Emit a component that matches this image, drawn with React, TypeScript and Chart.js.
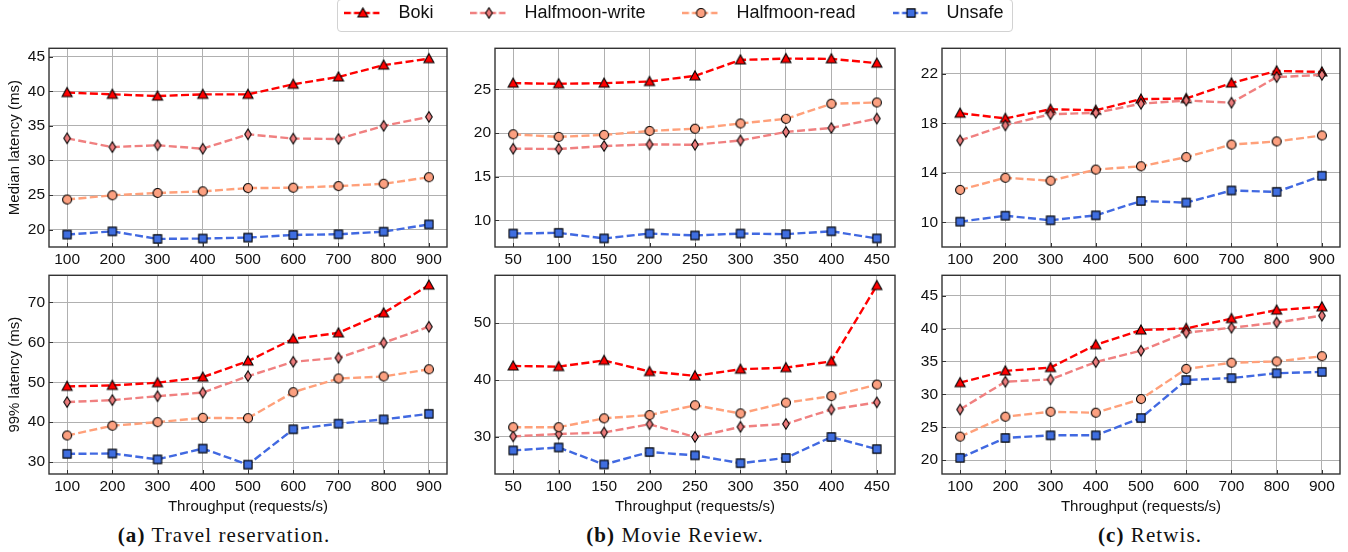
import React, { useEffect, useRef } from 'react';
import { Chart, registerables } from 'chart.js';

Chart.register(...registerables);

// ---------------- data ----------------
const SERIES_NAMES = ['Boki', 'Halfmoon-write', 'Halfmoon-read', 'Unsafe'];

const travelX = [100, 200, 300, 400, 500, 600, 700, 800, 900];
const movieX = [50, 100, 150, 200, 250, 300, 350, 400, 450];
const retwisX = [100, 200, 300, 400, 500, 600, 700, 800, 900];

// (a) Travel reservation - median
const travelMedBoki = [39.8, 39.55, 39.3, 39.55, 39.55, 41.0, 42.06, 43.77, 44.7];
const travelMedWrite = [33.2, 31.93, 32.2, 31.7, 33.78, 33.16, 33.1, 35.0, 36.3];
const travelMedRead = [24.36, 24.97, 25.3, 25.54, 26.01, 26.06, 26.3, 26.63, 27.58];
const travelMedUnsafe = [19.29, 19.76, 18.67, 18.72, 18.86, 19.24, 19.34, 19.72, 20.76];
// (a) Travel reservation - 99%
const travelP99Boki = [48.97, 49.2, 49.88, 51.27, 55.3, 60.88, 62.36, 67.37, 74.35];
const travelP99Write = [45.03, 45.52, 46.5, 47.41, 51.52, 55.13, 56.12, 59.9, 63.92];
const travelP99Read = [36.65, 39.1, 40.0, 41.07, 40.99, 47.5, 50.94, 51.44, 53.24];
const travelP99Unsafe = [32.05, 32.14, 30.66, 33.37, 29.34, 38.21, 39.61, 40.68, 42.07];

// (b) Movie Review - median
const movieMedBoki = [25.71, 25.64, 25.71, 25.9, 26.54, 28.37, 28.52, 28.49, 28.0];
const movieMedWrite = [18.21, 18.18, 18.52, 18.7, 18.66, 19.15, 20.13, 20.58, 21.66];
const movieMedRead = [19.86, 19.56, 19.79, 20.24, 20.5, 21.1, 21.63, 23.35, 23.5];
const movieMedUnsafe = [8.5, 8.58, 7.94, 8.5, 8.28, 8.5, 8.43, 8.76, 7.94];
// (b) Movie Review - 99%
const movieP99Boki = [42.47, 42.36, 43.45, 41.49, 40.75, 41.9, 42.18, 43.28, 56.6];
const movieP99Write = [30.11, 30.52, 30.8, 32.24, 30.0, 31.78, 32.3, 34.83, 36.09];
const movieP99Read = [31.72, 31.72, 33.28, 33.85, 35.57, 34.14, 36.03, 37.18, 39.2];
const movieP99Unsafe = [27.64, 28.16, 25.17, 27.36, 26.78, 25.4, 26.32, 30.0, 27.87];

// (c) Retwis - median
const retwisMedBoki = [18.82, 18.4, 19.14, 19.06, 19.96, 20.01, 21.26, 22.24, 22.16];
const retwisMedWrite = [16.62, 17.84, 18.74, 18.85, 19.59, 19.85, 19.67, 21.74, 21.92];
const retwisMedRead = [12.62, 13.6, 13.36, 14.26, 14.53, 15.27, 16.28, 16.54, 17.02];
const retwisMedUnsafe = [10.05, 10.53, 10.16, 10.56, 11.72, 11.59, 12.57, 12.46, 13.76];
// (c) Retwis - 99%
const retwisP99Boki = [31.78, 33.57, 34.07, 37.54, 39.78, 40.03, 41.52, 42.81, 43.31];
const retwisP99Write = [27.7, 31.93, 32.28, 34.91, 36.65, 39.38, 40.13, 40.92, 41.97];
const retwisP99Read = [23.58, 26.61, 27.36, 27.21, 29.29, 33.87, 34.81, 35.01, 35.8];
const retwisP99Unsafe = [20.35, 23.38, 23.78, 23.78, 26.41, 32.18, 32.48, 33.22, 33.42];

// tick labels
const travelXTicks = [100, 200, 300, 400, 500, 600, 700, 800, 900];
const movieXTicks = [50, 100, 150, 200, 250, 300, 350, 400, 450];
const retwisXTicks = [100, 200, 300, 400, 500, 600, 700, 800, 900];
const travelMedYTicks = [20, 25, 30, 35, 40, 45];
const travelP99YTicks = [30, 40, 50, 60, 70];
const movieMedYTicks = [10, 15, 20, 25];
const movieP99YTicks = [30, 40, 50];
const retwisMedYTicks = [10, 14, 18, 22];
const retwisP99YTicks = [20, 25, 30, 35, 40, 45];

const X_TITLE = 'Throughput (requests/s)';
const Y_TITLE_MED = 'Median latency (ms)';
const Y_TITLE_P99 = '99% latency (ms)';

// ---------------- styles ----------------
const LINE_COLORS = ['#ff0000', '#f08080', '#ffa07a', '#4169e1'];
const MARKER_FILLS = ['#ff0000', '#ec7c7c', '#fca080', '#3f6ee0'];
const MARKER_KINDS = ['triangle', 'thinDiamond', 'circle', 'square'];
const FONT = '"Liberation Sans", Arial, Helvetica, sans-serif';
const DASH = [8, 3.4];

function drawMarker(ctx: CanvasRenderingContext2D, kind: string, cx: number, cy: number, fill: string) {
  ctx.beginPath();
  if (kind === 'triangle') {
    ctx.moveTo(cx, cy - 5.0);
    ctx.lineTo(cx + 5.0, cy + 4.0);
    ctx.lineTo(cx - 5.0, cy + 4.0);
    ctx.closePath();
  } else if (kind === 'thinDiamond') {
    ctx.moveTo(cx, cy - 5.3);
    ctx.lineTo(cx + 3.3, cy);
    ctx.lineTo(cx, cy + 5.3);
    ctx.lineTo(cx - 3.3, cy);
    ctx.closePath();
  } else if (kind === 'circle') {
    ctx.arc(cx, cy, 4.5, 0, Math.PI * 2);
  } else {
    ctx.rect(cx - 4.1, cy - 4.1, 8.2, 8.2);
  }
  ctx.fillStyle = fill;
  ctx.fill();
  ctx.lineWidth = 1.1;
  ctx.strokeStyle = '#000';
  ctx.stroke();
}

function makeMarker(i: number): HTMLCanvasElement {
  const c = document.createElement('canvas');
  c.width = 14;
  c.height = 14;
  const ctx = c.getContext('2d')!;
  drawMarker(ctx, MARKER_KINDS[i], 7, 7, MARKER_FILLS[i]);
  return c;
}

function makeLegendHandle(i: number): HTMLCanvasElement {
  const c = document.createElement('canvas');
  c.width = 45;
  c.height = 14;
  const ctx = c.getContext('2d')!;
  ctx.strokeStyle = LINE_COLORS[i];
  ctx.lineWidth = 2.4;
  ctx.setLineDash([6.5, 3]);
  ctx.beginPath();
  ctx.moveTo(0, 7);
  ctx.lineTo(37, 7);
  ctx.stroke();
  ctx.setLineDash([]);
  drawMarker(ctx, MARKER_KINDS[i], 18.5, 7, MARKER_FILLS[i]);
  return c;
}

const framePlugin = {
  id: 'frame',
  afterDraw(chart: any) {
    const { ctx, chartArea } = chart;
    const { left, right, top, bottom } = chartArea;
    ctx.save();
    ctx.strokeStyle = '#333';
    ctx.lineWidth = 1;
    const xs = chart.scales.x;
    const ys = chart.scales.y;
    ctx.beginPath();
    xs.ticks.forEach((t: any) => {
      const px = Math.round(xs.getPixelForValue(t.value)) + 0.5;
      ctx.moveTo(px, bottom);
      ctx.lineTo(px, bottom - 4);
    });
    ys.ticks.forEach((t: any) => {
      const py = Math.round(ys.getPixelForValue(t.value)) + 0.5;
      ctx.moveTo(left, py);
      ctx.lineTo(left + 4, py);
    });
    ctx.stroke();
    ctx.lineWidth = 1.4;
    ctx.strokeRect(left, top, right - left, bottom - top);
    ctx.restore();
  },
};

type PanelCfg = {
  left: number;
  top: number;
  width: number;
  height: number;
  yAxisW: number;
  xAxisH: number;
  padRight: number;
  xs: number[];
  series: number[][];
  xMin: number;
  xMax: number;
  yMin: number;
  yMax: number;
  xTicks: number[];
  yTicks: number[];
  yTitle?: string;
  xTitle?: string;
};

const TOP_Y = 35;
const TOP_H = 235;
const BOT_Y = 262;
const BOT_H = 254;

const PANELS: PanelCfg[] = [
  {
    left: 0, top: TOP_Y, width: 460, height: TOP_H, yAxisW: 49, xAxisH: 23, padRight: 13,
    xs: travelX, series: [travelMedBoki, travelMedWrite, travelMedRead, travelMedUnsafe],
    xMin: 60, xMax: 940, yMin: 17.5, yMax: 46.2, xTicks: travelXTicks, yTicks: travelMedYTicks,
    yTitle: Y_TITLE_MED,
  },
  {
    left: 460, top: TOP_Y, width: 450, height: TOP_H, yAxisW: 35, xAxisH: 23, padRight: 15,
    xs: movieX, series: [movieMedBoki, movieMedWrite, movieMedRead, movieMedUnsafe],
    xMin: 30, xMax: 470, yMin: 6.96, yMax: 29.7, xTicks: movieXTicks, yTicks: movieMedYTicks,
  },
  {
    left: 900, top: TOP_Y, width: 448, height: TOP_H, yAxisW: 42, xAxisH: 23, padRight: 8,
    xs: retwisX, series: [retwisMedBoki, retwisMedWrite, retwisMedRead, retwisMedUnsafe],
    xMin: 60, xMax: 940, yMin: 8.0, yMax: 24.07, xTicks: retwisXTicks, yTicks: retwisMedYTicks,
  },
  {
    left: 0, top: BOT_Y, width: 460, height: BOT_H, yAxisW: 49, xAxisH: 42, padRight: 13,
    xs: travelX, series: [travelP99Boki, travelP99Write, travelP99Read, travelP99Unsafe],
    xMin: 60, xMax: 940, yMin: 27.0, yMax: 76.8, xTicks: travelXTicks, yTicks: travelP99YTicks,
    yTitle: Y_TITLE_P99, xTitle: X_TITLE,
  },
  {
    left: 460, top: BOT_Y, width: 450, height: BOT_H, yAxisW: 35, xAxisH: 42, padRight: 15,
    xs: movieX, series: [movieP99Boki, movieP99Write, movieP99Read, movieP99Unsafe],
    xMin: 30, xMax: 470, yMin: 23.5, yMax: 58.4, xTicks: movieXTicks, yTicks: movieP99YTicks,
    xTitle: X_TITLE,
  },
  {
    left: 900, top: BOT_Y, width: 448, height: BOT_H, yAxisW: 42, xAxisH: 42, padRight: 8,
    xs: retwisX, series: [retwisP99Boki, retwisP99Write, retwisP99Read, retwisP99Unsafe],
    xMin: 60, xMax: 940, yMin: 17.9, yMax: 48.1, xTicks: retwisXTicks, yTicks: retwisP99YTicks,
    xTitle: X_TITLE,
  },
];

const CAPTIONS = [
  { label: '(a)', text: ' Travel reservation.', cx: 224 },
  { label: '(b)', text: ' Movie Review.', cx: 675 },
  { label: '(c)', text: ' Retwis.', cx: 1150 },
];

function Panel({ cfg }: { cfg: PanelCfg }) {
  const ref = useRef<HTMLCanvasElement>(null);
  useEffect(() => {
    const markers = [0, 1, 2, 3].map(makeMarker);
    const datasets = cfg.series.map((vals, i) => ({
      label: SERIES_NAMES[i],
      data: vals.map((v, j) => ({ x: cfg.xs[j], y: v })),
      borderColor: LINE_COLORS[i],
      backgroundColor: MARKER_FILLS[i],
      borderWidth: 2.4,
      borderDash: DASH,
      pointStyle: markers[i],
      pointRadius: 5,
      pointHoverRadius: 5,
      order: 3 - i,
      tension: 0,
      clip: false as any,
    }));
    const tickFont = { family: FONT, size: 15.5 };
    const chart = new Chart(ref.current!, {
      type: 'line',
      data: { datasets },
      plugins: [framePlugin],
      options: {
        animation: false,
        responsive: false,
        maintainAspectRatio: false,
        events: [],
        layout: { padding: { top: 10, right: cfg.padRight, left: 0, bottom: 0 } },
        plugins: { legend: { display: false }, tooltip: { enabled: false } },
        scales: {
          x: {
            type: 'linear',
            min: cfg.xMin,
            max: cfg.xMax,
            afterBuildTicks: (axis: any) => {
              axis.ticks = cfg.xTicks.map((v) => ({ value: v }));
            },
            afterFit: (axis: any) => {
              axis.height = cfg.xAxisH;
            },
            grid: { color: '#b0b0b0', lineWidth: 1, drawTicks: false },
            border: { display: false },
            ticks: { font: tickFont, color: '#111', padding: 3, maxRotation: 0, autoSkip: false },
            title: cfg.xTitle
              ? { display: true, text: cfg.xTitle, font: { family: FONT, size: 15 }, color: '#111', padding: { top: 0, bottom: 0 } }
              : { display: false },
          },
          y: {
            type: 'linear',
            min: cfg.yMin,
            max: cfg.yMax,
            afterBuildTicks: (axis: any) => {
              axis.ticks = cfg.yTicks.map((v) => ({ value: v }));
            },
            afterFit: (axis: any) => {
              axis.width = cfg.yAxisW;
            },
            grid: { color: '#b0b0b0', lineWidth: 1, drawTicks: false },
            border: { display: false },
            ticks: { font: tickFont, color: '#111', padding: 4, autoSkip: false },
            title: cfg.yTitle
              ? { display: true, text: cfg.yTitle, font: { family: FONT, size: 15 }, color: '#111', padding: { top: 6, bottom: 0 } }
              : { display: false },
          },
        },
      } as any,
    });
    return () => chart.destroy();
  }, [cfg]);
  return (
    <canvas
      ref={ref}
      width={cfg.width}
      height={cfg.height}
      style={{ position: 'absolute', left: cfg.left, top: cfg.top, width: cfg.width, height: cfg.height }}
    />
  );
}

function LegendChart() {
  const ref = useRef<HTMLCanvasElement>(null);
  useEffect(() => {
    const handles = [0, 1, 2, 3].map(makeLegendHandle);
    const chart = new Chart(ref.current!, {
      type: 'line',
      data: {
        datasets: SERIES_NAMES.map((name, i) => ({
          label: name,
          data: [],
          borderColor: LINE_COLORS[i],
          backgroundColor: MARKER_FILLS[i],
        })),
      },
      options: {
        animation: false,
        responsive: false,
        maintainAspectRatio: false,
        events: [],
        layout: { padding: 0 },
        scales: { x: { display: false }, y: { display: false } },
        plugins: {
          tooltip: { enabled: false },
          legend: {
            display: true,
            position: 'top',
            align: 'center',
            labels: {
              usePointStyle: true,
              pointStyleWidth: 45,
              padding: 37,
              color: '#111',
              font: { family: FONT, size: 18 },
              generateLabels: (ch: any) =>
                ch.data.datasets.map((ds: any, i: number) => ({
                  text: ds.label,
                  pointStyle: handles[i],
                  fillStyle: ds.backgroundColor,
                  strokeStyle: ds.borderColor,
                  lineWidth: 0,
                  hidden: false,
                  datasetIndex: i,
                  fontColor: '#111',
                })),
            },
          },
        },
      } as any,
    });
    return () => chart.destroy();
  }, []);
  return (
    <canvas
      ref={ref}
      width={1348}
      height={200}
      style={{ position: 'absolute', left: 0, top: -33, width: 1348, height: 200 }}
    />
  );
}

export default function App() {
  return (
    <div
      style={{
        position: 'absolute',
        left: 0,
        top: 0,
        width: 1348,
        height: 552,
        background: '#fff',
        overflow: 'hidden',
      }}
    >
      <div
        style={{
          position: 'absolute',
          left: 337,
          top: -1,
          width: 676,
          height: 33,
          border: '1px solid #d2d2d2',
          borderRadius: 4,
          boxSizing: 'border-box',
        }}
      />
      {PANELS.map((p, i) => (
        <Panel key={i} cfg={p} />
      ))}
      <LegendChart />
      {CAPTIONS.map((c, i) => (
        <div
          key={i}
          style={{
            position: 'absolute',
            left: c.cx - 200,
            width: 400,
            top: 522,
            height: 26,
            lineHeight: '26px',
            textAlign: 'center',
            fontFamily: '"Liberation Serif", "Times New Roman", serif',
            fontSize: 21,
            letterSpacing: '1.1px',
            color: '#111',
            whiteSpace: 'nowrap',
          }}
        >
          <b>{c.label}</b>
          {c.text}
        </div>
      ))}
    </div>
  );
}
